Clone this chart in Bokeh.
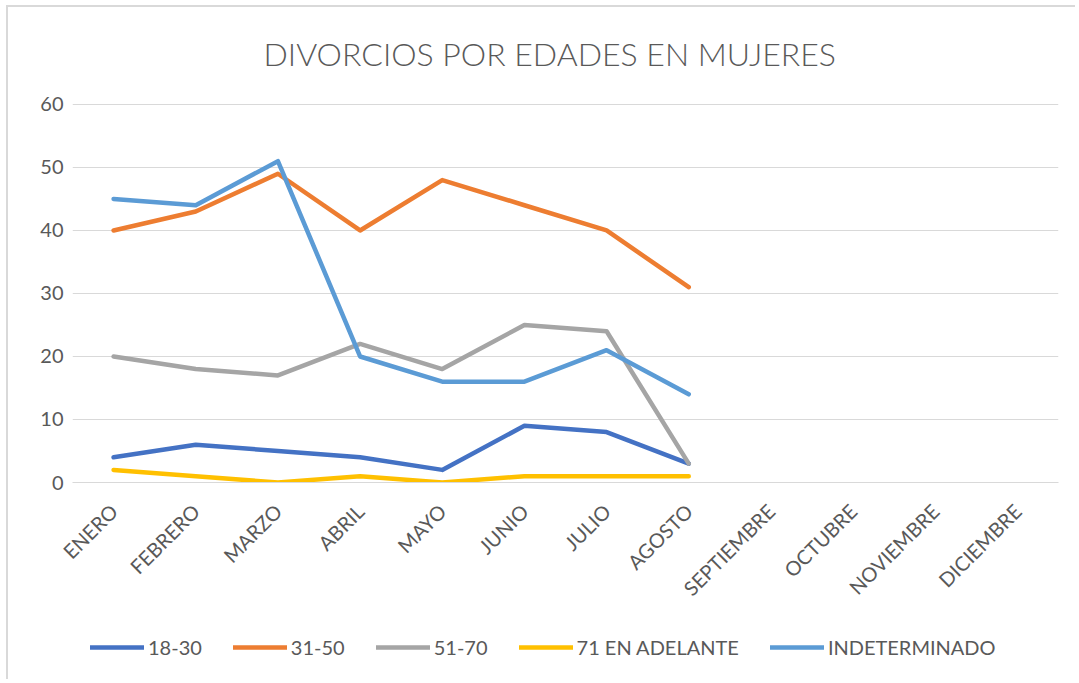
import math
from bokeh.plotting import figure
from bokeh.layouts import column
from bokeh.models import Legend, LegendItem, FixedTicker, Title
from bokeh.embed import file_html
from bokeh.resources import INLINE

months = ["ENERO", "FEBRERO", "MARZO", "ABRIL", "MAYO", "JUNIO", "JULIO",
          "AGOSTO", "SEPTIEMBRE", "OCTUBRE", "NOVIEMBRE", "DICIEMBRE"]
data_months = months[:8]

s18_30 = [4, 6, 5, 4, 2, 9, 8, 3]
s31_50 = [40, 43, 49, 40, 48, 44, 40, 31]
s51_70 = [20, 18, 17, 22, 18, 25, 24, 3]
s71 = [2, 1, 0, 1, 0, 1, 1, 1]
s_indet = [45, 44, 51, 20, 16, 16, 21, 14]

series_names = ["18-30", "31-50", "51-70", "71 EN ADELANTE", "INDETERMINADO"]
series_vals = [s18_30, s31_50, s51_70, s71, s_indet]
colors = ["#4472C4", "#ED7D31", "#A5A5A5", "#FFC000", "#5B9BD5"]
y_ticks = [0, 10, 20, 30, 40, 50, 60]

FONT = "Lato"
TXT = "#595959"
BORDER = "#D9D9D9"

p = figure(x_range=months, y_range=(0, 60.15), width=1075, height=620,
           output_backend="svg", toolbar_location=None,
           min_border_left=72, min_border_right=17,
           min_border_top=103, min_border_bottom=138)
p.stylesheets = [":host::after{content:'';position:absolute;left:6px;top:5px;"
                 "right:0;bottom:0;border-left:2px solid %s;border-top:2px solid %s;"
                 "pointer-events:none;}" % (BORDER, BORDER)]

p.add_layout(Title(text="DIVORCIOS POR EDADES EN MUJERES", align="left",
                   offset=191,
                   text_font="Lato Light", text_font_size="32px", text_font_style="normal",
                   text_color=TXT, standoff=62), "above")

for name, vals, c in zip(series_names, series_vals, colors):
    p.line(data_months, vals, line_color=c, line_width=4.5,
           line_join="round", line_cap="round")

p.outline_line_color = None
p.xgrid.grid_line_color = None
p.ygrid.grid_line_color = "#D9D9D9"
p.ygrid.grid_line_width = 1

p.yaxis.ticker = FixedTicker(ticks=y_ticks)
p.yaxis.axis_line_color = None
p.yaxis.major_tick_line_color = None
p.yaxis.minor_tick_line_color = None
p.yaxis.major_label_text_font = FONT
p.yaxis.major_label_text_font_size = "20px"
p.yaxis.major_label_text_color = TXT
p.yaxis.major_label_standoff = 3

p.xaxis.axis_line_color = "#D9D9D9"
p.xaxis.major_tick_line_color = None
p.xaxis.minor_tick_line_color = None
p.xaxis.major_label_orientation = math.pi / 4
p.xaxis.major_label_text_font = FONT
p.xaxis.major_label_text_font_size = "20px"
p.xaxis.major_label_text_color = TXT
p.xaxis.major_label_standoff = 19

# legend lives in its own strip below the chart (series drawn out of view)
leg = figure(width=1075, height=59, x_range=months, y_range=(-200, -199),
             output_backend="svg", toolbar_location=None,
             x_axis_location=None, y_axis_location=None,
             min_border_left=72, min_border_right=17,
             min_border_top=0, min_border_bottom=0)
leg.stylesheets = [":host::after{content:'';position:absolute;left:6px;top:0;"
                   "bottom:0;width:0;border-left:2px solid %s;pointer-events:none;}" % BORDER]
leg.outline_line_color = None
leg.xgrid.grid_line_color = None
leg.ygrid.grid_line_color = None

items = []
for name, vals, c in zip(series_names, series_vals, colors):
    r = leg.line(data_months, vals, line_color=c, line_width=4.5, line_cap="round")
    items.append(LegendItem(label=name, renderers=[r]))

legend = Legend(items=items, orientation="horizontal", location=(18, 20),
                border_line_color=None, background_fill_alpha=0,
                label_text_font=FONT, label_text_font_size="20px",
                label_text_color=TXT, glyph_width=54, glyph_height=18,
                label_standoff=4, spacing=31, padding=0, margin=0)
leg.add_layout(legend, "center")

layout = column(p, leg, spacing=0)
open("out.html", "w").write(file_html(layout, INLINE))
